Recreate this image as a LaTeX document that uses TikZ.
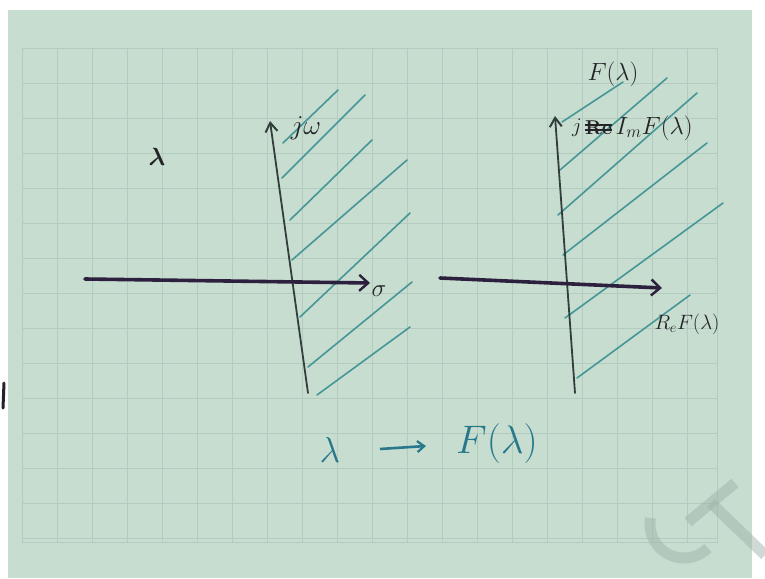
\documentclass[tikz,border=0pt]{standalone}
\usetikzlibrary{arrows.meta}
\usepackage{amsmath}
\definecolor{paper}{RGB}{199,221,207}
\definecolor{gridc}{RGB}{180,204,192}
\definecolor{hatch}{RGB}{70,150,152}
\definecolor{axisH}{RGB}{45,32,62}
\definecolor{axisV}{RGB}{50,62,60}
\definecolor{ink}{RGB}{35,35,40}
\definecolor{bluink}{RGB}{40,120,140}
\definecolor{wmark}{RGB}{160,180,172}
\tikzset{
  hatchline/.style={hatch, line width=1.6pt, line cap=round},
  haxis/.style={axisH, line width=3.6pt, line cap=round, -{Straight Barb[length=9pt,width=16pt,line width=2.4pt]}},
  vaxis/.style={axisV, line width=1.8pt, line cap=round, -{Straight Barb[length=9pt,width=12pt,line width=2pt]}},
  lbl/.style={ink, inner sep=0pt},
}
\begin{document}
\begin{tikzpicture}[x=1pt,y=-1pt]
\useasboundingbox (0,0) rectangle (765,578);
\fill[white] (0,0) rectangle (765,578);
\fill[paper] (8,10) rectangle (752,578);
% grid
\begin{scope}
\clip (22,48) rectangle (717,542);
\foreach \gx in {22,57,...,717} \draw[gridc, line width=0.9pt] (\gx,48) -- (\gx,542);
\foreach \gy in {48,83,...,542} \draw[gridc, line width=0.9pt] (22,\gy) -- (717,\gy);
\end{scope}
\draw[gridc, line width=0.9pt] (22,48) rectangle (717,542);
% left edge mark
\draw[ink, line width=3pt, line cap=round] (4,383) -- (3,408);

% ---------- left plane ----------
\coordinate (L0) at (85,279);
\coordinate (L1) at (370,283);
\coordinate (V0) at (308,393);
\coordinate (V1) at (270,121);
\foreach \a/\b/\c/\d in {283/143/338/90, 282/178/365/95, 290/220/372/140, 292/260/407/160, 300/317/410/213, 308/367/412/282, 317/395/410/327}
  \draw[hatchline] (\a,\b) -- (\c,\d);
\draw[vaxis] (V0) -- (V1);
\draw[haxis] (L0) -- (L1);
\node[lbl, font=\fontsize{24}{26}\selectfont, scale=1.1] (jw) at (306,128) {$j\omega$};
\node[lbl, font=\fontsize{24}{26}\selectfont] (sig) at (379,291) {$\sigma$};
\node[lbl, font=\fontsize{24}{26}\selectfont] (lam) at (157,157) {$\boldsymbol{\lambda}$};

% ---------- right plane ----------
\coordinate (R0) at (440,278);
\coordinate (R1) at (662,288);
\coordinate (W0) at (575,393);
\coordinate (W1) at (555,116);
\foreach \a/\b/\c/\d in {562/122/623/82, 560/170/667/78, 558/215/697/93, 563/255/707/143, 565/318/723/203, 577/378/690/295}
  \draw[hatchline] (\a,\b) -- (\c,\d);
\draw[vaxis] (W0) -- (W1);
\draw[haxis] (R0) -- (R1);
\node[lbl, font=\fontsize{24}{26}\selectfont] (Fl) at (613,74) {$F(\lambda)$};
\node[lbl, font=\fontsize{22}{24}\selectfont, anchor=west] (jj) at (572,128) {$j$};
\node[lbl, font=\bfseries\fontsize{20}{22}\selectfont, anchor=west] (re) at ([xshift=3pt]jj.east) {Re};
\draw[ink, line width=1.6pt] ([yshift=-2pt]re.west) -- ([yshift=-2pt]re.east);
\draw[ink, line width=1.6pt] ([yshift=3pt]re.west) -- ([yshift=3pt]re.east);
\node[lbl, font=\fontsize{24}{26}\selectfont, anchor=west] (imF) at ([xshift=3pt]re.east) {$I_m F(\lambda)$};
\node[lbl, font=\fontsize{22}{24}\selectfont] (reF) at (687,324) {$R_e F(\lambda)$};

% ---------- mapping ----------
\node[bluink, inner sep=0pt, font=\fontsize{24}{26}\selectfont, scale=1.45] (ls) at (330,450) {$\lambda$};
\node[bluink, inner sep=0pt, font=\fontsize{24}{26}\selectfont, scale=1.6] (FF) at (497,444) {$F(\lambda)$};
\coordinate (ma) at (380,449);
\coordinate (mb) at (426,446);
\draw[bluink, line width=2.6pt, -{Straight Barb[length=7pt,width=11pt,line width=2.2pt]}] (ma) -- (mb);

% watermark
\begin{scope}[opacity=0.5]
\draw[wmark, line width=11pt] (688,522) -- (735,483);
\draw[wmark, line width=11pt] (711,503) -- (765,555);
\draw[wmark, line width=11pt] (708,548) arc[start angle=45, end angle=190, radius=34];
\end{scope}
\end{tikzpicture}
\end{document}
